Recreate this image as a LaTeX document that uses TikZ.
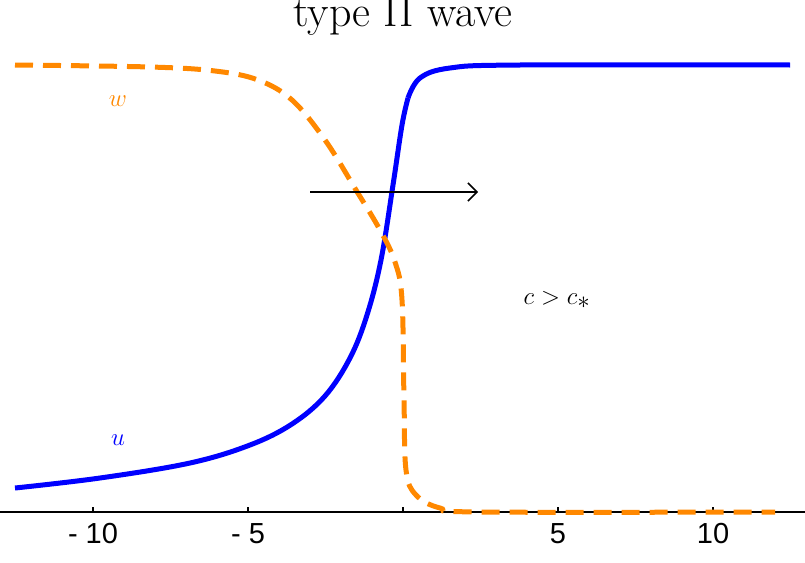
\documentclass[tikz,border=0pt]{standalone}
\usepackage{fontspec}
\newfontfamily\ticksf{Liberation Sans}
\usetikzlibrary{arrows.meta}
\definecolor{wcol}{RGB}{255,136,0}
\tikzstyle{ucurve} = [draw=blue, line width=5pt, line join=round]
\tikzstyle{wcurve} = [draw=wcol, line width=5pt, dash pattern=on 18pt off 10pt]
\tikzstyle{ticklab} = [font=\ticksf\fontsize{29}{32}\selectfont, anchor=north]
\tikzstyle{big} = [font=\fontsize{44}{50}\selectfont]
\tikzstyle{line} = [draw,-{Straight Barb[length=9pt,width=18pt]}, line width=1.5pt]

\begin{document}
\begin{tikzpicture}[x=1pt, y=-1pt]
\useasboundingbox (0,0) rectangle (805,562);

% axis
\coordinate (A0) at (0,512);
\coordinate (A1) at (805,512);
\draw[line width=2.5pt] (A0) -- (A1);
\foreach \v/\t in {-10/- 10, -5/- 5, 0/, 5/5, 10/10} {
  \draw[line width=1.5pt] (403+31*\v,512) -- (403+31*\v,507);
  \node[ticklab] (t\v) at (403+31*\v,520) {\t};
}

% curves
\draw[ucurve] plot[smooth, tension=0.6] coordinates {(15,488) (100,478) (190,463) (250,445) (292,424) (325,396) (350,358) (367,315) (381,260) (393,185) (402,125) (408,98)};
\draw[ucurve] plot[smooth, tension=0.6] coordinates {(408,98) (420,78) (450,68) (520,65) (790,65)};
\draw[wcurve] plot[smooth, tension=0.6] coordinates {(15,65) (150,67) (215,71) (258,80) (292,100) (325,140) (356,190) (380,230) (395,262) (402,300) (404,400) (406,470) (416,495) (440,508) (480,512) (775,512)};

% labels
\node[big] (title) at (403,16) {type II wave};
\node[big, text=wcol] (wlab) at (118,101) {$w$};
\node[big, text=blue] (ulab) at (118,440) {$u$};
\node[big] (speed) at (557,300) {$c > c_*$};

% direction
\coordinate (s0) at (310,192);
\coordinate (s1) at (478,192);
\path [line] (s0) -- (s1);
\end{tikzpicture}
\end{document}
